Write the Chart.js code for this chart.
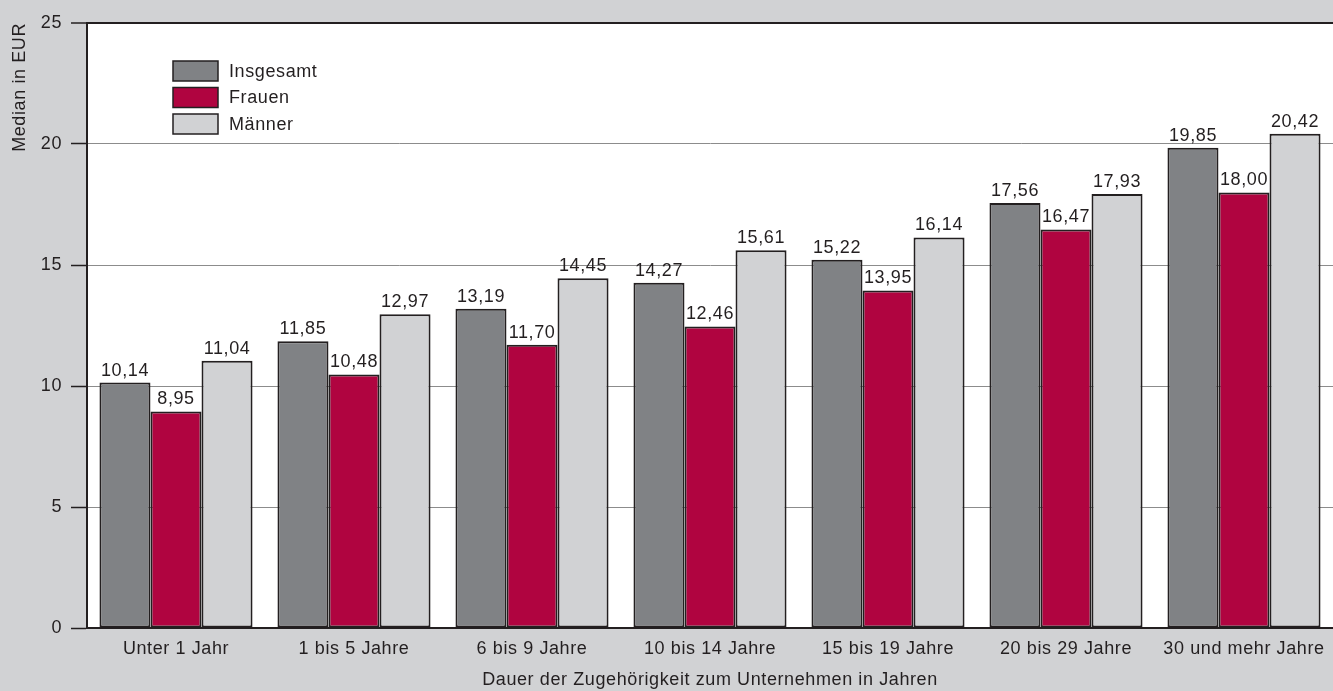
<!DOCTYPE html>
<html>
<head>
<meta charset="utf-8">
<script src="https://cdn.jsdelivr.net/npm/chart.js@4"></script>
<style>
  html, body { margin: 0; padding: 0; background: #d1d2d4; }
  #wrap { width: 1333px; height: 691px; position: relative; }
</style>
</head>
<body>
<div id="wrap"><canvas id="chart"></canvas></div>
<script>
const categories = ['Unter 1 Jahr', '1 bis 5 Jahre', '6 bis 9 Jahre', '10 bis 14 Jahre',
  '15 bis 19 Jahre', '20 bis 29 Jahre', '30 und mehr Jahre'];
const insgesamt = [10.14, 11.85, 13.19, 14.27, 15.22, 17.56, 19.85];
const frauen    = [8.95, 10.48, 11.70, 12.46, 13.95, 16.47, 18.00];
const maenner   = [11.04, 12.97, 14.45, 15.61, 16.14, 17.93, 20.42];
const yTicks    = [0, 5, 10, 15, 20, 25];

const FONT = 'Liberation Sans, Arial, sans-serif';
const FS = 18;
const INK = '#231f20';

// grey page, white plot area; slightly wider lettering like the original
const bgPlugin = {
  id: 'bg',
  beforeDraw(chart) {
    const { ctx, chartArea: a } = chart;
    ctx.letterSpacing = '0.6px';
    ctx.save();
    ctx.fillStyle = '#d1d2d4';
    ctx.fillRect(0, 0, chart.width, chart.height);
    ctx.fillStyle = '#ffffff';
    ctx.fillRect(a.left, a.top, a.right - a.left, a.bottom - a.top);
    ctx.restore();
  }
};

// value labels above bars, German decimal comma
const valuePlugin = {
  id: 'values',
  afterDatasetsDraw(chart) {
    const { ctx } = chart;
    ctx.save();
    ctx.font = FS + 'px ' + FONT;
    ctx.fillStyle = INK;
    ctx.textAlign = 'center';
    ctx.textBaseline = 'bottom';
    chart.data.datasets.forEach((ds, i) => {
      chart.getDatasetMeta(i).data.forEach((bar, j) => {
        ctx.fillText(ds.data[j].toFixed(2).replace('.', ','), bar.x, bar.y - 3);
      });
    });
    ctx.restore();
  }
};

// legend box inside the plot, top-left
const legendPlugin = {
  id: 'innerLegend',
  afterDraw(chart) {
    const { ctx } = chart;
    ctx.save();
    ctx.font = FS + 'px ' + FONT;
    ctx.textBaseline = 'middle';
    chart.data.datasets.forEach((ds, i) => {
      const y = 61 + i * 26.5;
      ctx.fillStyle = ds.backgroundColor;
      ctx.fillRect(173, y, 45, 20);
      ctx.strokeStyle = INK;
      ctx.lineWidth = 1.5;
      ctx.strokeRect(173, y, 45, 20);
      ctx.fillStyle = INK;
      ctx.fillText(ds.label, 229, y + 11);
    });
    ctx.restore();
  }
};

const barStyle = { borderColor: INK, borderWidth: 2, borderSkipped: false,
  barPercentage: 1.0, categoryPercentage: 0.86 };

new Chart(document.getElementById('chart'), {
  type: 'bar',
  data: {
    labels: categories,
    datasets: [
      Object.assign({ label: 'Insgesamt', data: insgesamt, backgroundColor: '#808285' }, barStyle),
      Object.assign({ label: 'Frauen', data: frauen, backgroundColor: '#b00440' }, barStyle),
      Object.assign({ label: 'Männer', data: maenner, backgroundColor: '#d1d2d4' }, barStyle)
    ]
  },
  options: {
    responsive: true,
    maintainAspectRatio: false,
    animation: false,
    layout: { padding: { top: 23, right: 0, left: 0, bottom: 0 } },
    plugins: { legend: { display: false }, tooltip: { enabled: false } },
    scales: {
      x: {
        afterFit(scale) { scale.height = 63; },
        grid: { display: false },
        border: { display: true, color: INK, width: 2 },
        ticks: { color: INK, font: { family: FONT, size: FS }, padding: 2 },
        title: { display: true, text: 'Dauer der Zugehörigkeit zum Unternehmen in Jahren',
          color: INK, font: { family: FONT, size: FS }, padding: { top: 12, bottom: 0 } }
      },
      y: {
        min: 0, max: 25,
        afterFit(scale) { scale.width = 87; },
        afterBuildTicks(scale) { scale.ticks = yTicks.map(v => ({ value: v })); },
        grid: {
          color: ctx => ctx.tick && ctx.tick.value === 25 ? INK : '#8c8c8c',
          lineWidth: ctx => ctx.tick && ctx.tick.value === 25 ? 2 : 1,
          tickColor: INK, tickLength: 16, tickWidth: 1.5
        },
        border: { display: true, color: INK, width: 2 },
        ticks: { color: INK, font: { family: FONT, size: FS }, padding: 9 },
        title: { display: true, text: 'Median in EUR', color: INK, align: 'end',
          font: { family: FONT, size: FS }, padding: { top: 9, bottom: 0 } }
      }
    }
  },
  plugins: [bgPlugin, valuePlugin, legendPlugin]
});
</script>
</body>
</html>
